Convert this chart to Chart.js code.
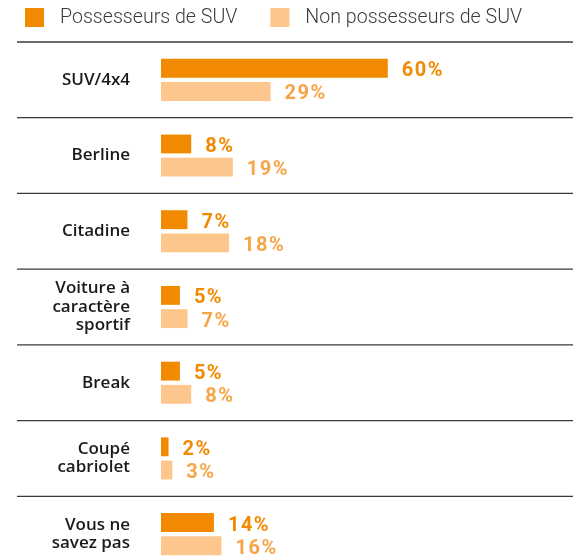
<!DOCTYPE html>
<html lang="fr">
<head>
    <meta charset="UTF-8">
    <title>Type de véhicule</title>
    <script src="https://cdn.jsdelivr.net/npm/chart.js@4.4.1/dist/chart.umd.min.js"></script>
    <style>
        html, body { margin: 0; padding: 0; overflow: hidden; background: #fff; }
        .chart-container { width: 573px; height: 573px; position: relative; }
    </style>
</head>
<body>
    <div class="chart-container">
        <canvas id="vehChart"></canvas>
    </div>

    <script>
        // données
        const categories = [
            'SUV/4x4',
            'Berline',
            'Citadine',
            ['Voiture à', 'caractère', 'sportif'],
            'Break',
            ['Coupé', 'cabriolet'],
            ['Vous ne', 'savez pas']
        ];
        const seriesNames = ['Possesseurs de SUV', 'Non possesseurs de SUV'];
        const possesseurs = [60, 8, 7, 5, 5, 2, 14];
        const nonPossesseurs = [29, 19, 18, 7, 8, 3, 16];

        const barColors = ['#f18a00', '#fdc68c'];
        const labelColors = ['#f18a00', '#f6a549'];

        // lignes de séparation entre les catégories
        const rowLines = {
            id: 'rowLines',
            beforeDatasetsDraw(chart) {
                const { ctx, chartArea, scales: { y } } = chart;
                ctx.save();
                ctx.strokeStyle = '#3a3a3a';
                ctx.lineWidth = 1.3;
                for (let i = 0; i <= categories.length; i++) {
                    const py = y.getPixelForValue(i - 0.5);
                    ctx.beginPath();
                    ctx.moveTo(17, py);
                    ctx.lineTo(chartArea.right, py);
                    ctx.stroke();
                }
                ctx.restore();
            }
        };

        // valeurs en % à droite des barres
        const valueLabels = {
            id: 'valueLabels',
            afterDatasetsDraw(chart) {
                const ctx = chart.ctx;
                ctx.save();
                ctx.font = 'bold 20px Roboto';
                ctx.letterSpacing = '1.5px';
                ctx.textAlign = 'left';
                ctx.textBaseline = 'middle';
                chart.data.datasets.forEach((ds, di) => {
                    ctx.fillStyle = labelColors[di];
                    chart.getDatasetMeta(di).data.forEach((bar, i) => {
                        ctx.fillText(ds.data[i] + '%', bar.x + 14, bar.y + 3);
                    });
                });
                ctx.restore();
            }
        };

        // légende en haut
        const topLegend = {
            id: 'topLegend',
            afterDraw(chart) {
                const ctx = chart.ctx;
                ctx.save();
                ctx.font = '300 19.6px Roboto';
                ctx.textBaseline = 'middle';
                ctx.textAlign = 'left';
                let x = 25;
                chart.data.datasets.forEach((ds, di) => {
                    ctx.fillStyle = barColors[di];
                    ctx.fillRect(x, 8, 19, 19);
                    ctx.fillStyle = '#3c3c3c';
                    ctx.fillText(ds.label, x + 35, 18);
                    x += 35 + ctx.measureText(ds.label).width + 33;
                });
                ctx.restore();
            }
        };

        const ctx = document.getElementById('vehChart').getContext('2d');
        new Chart(ctx, {
            type: 'bar',
            data: {
                labels: categories,
                datasets: [{
                    label: seriesNames[0],
                    data: possesseurs,
                    backgroundColor: barColors[0]
                }, {
                    label: seriesNames[1],
                    data: nonPossesseurs,
                    backgroundColor: barColors[1]
                }]
            },
            options: {
                indexAxis: 'y',
                responsive: true,
                maintainAspectRatio: false,
                animation: false,
                layout: { padding: { top: 42, bottom: 1, left: 0, right: 0 } },
                datasets: {
                    bar: { categoryPercentage: 0.613, barPercentage: 0.813 }
                },
                scales: {
                    x: {
                        display: false,
                        min: 0,
                        max: 109
                    },
                    y: {
                        grid: { display: false, drawTicks: false },
                        border: { display: false },
                        ticks: {
                            padding: 31,
                            color: '#1a1a1a',
                            font: { family: 'Open Sans', size: 17, weight: '600', lineHeight: 1.08 }
                        },
                        afterFit(scale) {
                            scale.width = 161;
                            scale.paddingTop = 0;
                            scale.paddingBottom = 0;
                        }
                    }
                },
                plugins: {
                    legend: { display: false },
                    tooltip: { enabled: false }
                }
            },
            plugins: [rowLines, valueLabels, topLegend]
        });
    </script>
</body>
</html>
